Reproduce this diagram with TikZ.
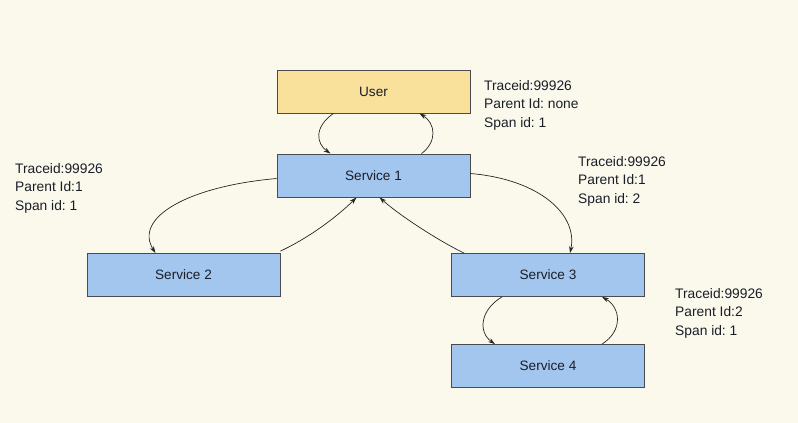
\documentclass[tikz,border=0pt]{standalone}
\usepackage{fontspec}
\setmainfont{Liberation Sans}
\usetikzlibrary{arrows.meta,calc}
\definecolor{bgc}{HTML}{FBF8EC}
\definecolor{userc}{HTML}{F9E09B}
\definecolor{svcc}{HTML}{A3C6EE}
\definecolor{edgec}{HTML}{4A4A50}
\definecolor{txtc}{HTML}{1A1E28}
\frenchspacing
\begin{document}
\begin{tikzpicture}[x=1pt,y=-1pt,
  box/.style={draw=edgec,line width=0.8pt,minimum width=193pt,minimum height=43pt,inner sep=0pt,font=\fontsize{13.6}{15}\selectfont,text=txtc},
  info/.style={anchor=north west,align=left,inner sep=0pt,font=\fontsize{13.8}{18.6}\selectfont,text=txtc},
  conn/.style={draw=black!85,line width=0.7pt,-{Stealth[length=7pt,width=4.5pt]}}]
\fill[bgc] (0,0) rectangle (798,423);
\useasboundingbox (0,0) rectangle (798,423);
\node[box,fill=userc] (u) at (373.5,91.5) {User};
\node[box,fill=svcc] (s1) at (373.5,175.5) {Service 1};
\node[box,fill=svcc] (s2) at (183.5,275) {Service 2};
\node[box,fill=svcc] (s3) at (548,275) {Service 3};
\node[box,fill=svcc] (s4) at (548,366) {Service 4};
\node[info] (i1) at (484,80) {Traceid:99926\\Parent Id: none\\Span id: 1};
\node[info] (i2) at (15,163) {Traceid:99926\\Parent Id:1\\Span id: 1};
\node[info] (i3) at (578,156) {Traceid:99926\\Parent Id:1\\Span id: 2};
\node[info] (i4) at (675,288) {Traceid:99926\\Parent Id:2\\Span id: 1};
% user <-> service 1
\draw[conn] ([xshift=-40pt]u.south) .. controls +(-20,14) and +(-14,-10) .. ([xshift=-43pt]s1.north);
\draw[conn] ([xshift=48pt]s1.north) .. controls +(16,-12) and +(16,10) .. ([xshift=46pt]u.south);
% service 1 <-> service 2
\draw[conn] ([yshift=-3pt]s1.west) .. controls +(-90,8) and +(-22,-35) .. ([xshift=-28pt]s2.north);
\draw[conn] ([yshift=2pt]s2.north east) .. controls +(30,-14) and +(-18,18) .. ([xshift=-17pt]s1.south);
% service 1 <-> service 3
\draw[conn] ([yshift=2pt]s1.east) .. controls +(70,6) and +(8,-38) .. ([xshift=22pt]s3.north);
\draw[conn] ([xshift=13pt]s3.north west) .. controls +(-25,-12) and +(20,18) .. ([xshift=6pt]s1.south);
% service 3 <-> service 4
\draw[conn] ([xshift=-46pt]s3.south) .. controls +(-22,13) and +(-17,-12) .. ([xshift=-53pt]s4.north);
\draw[conn] ([xshift=54pt]s4.north) .. controls +(22,-14) and +(18,10) .. ([xshift=54pt]s3.south);
\end{tikzpicture}
\end{document}
